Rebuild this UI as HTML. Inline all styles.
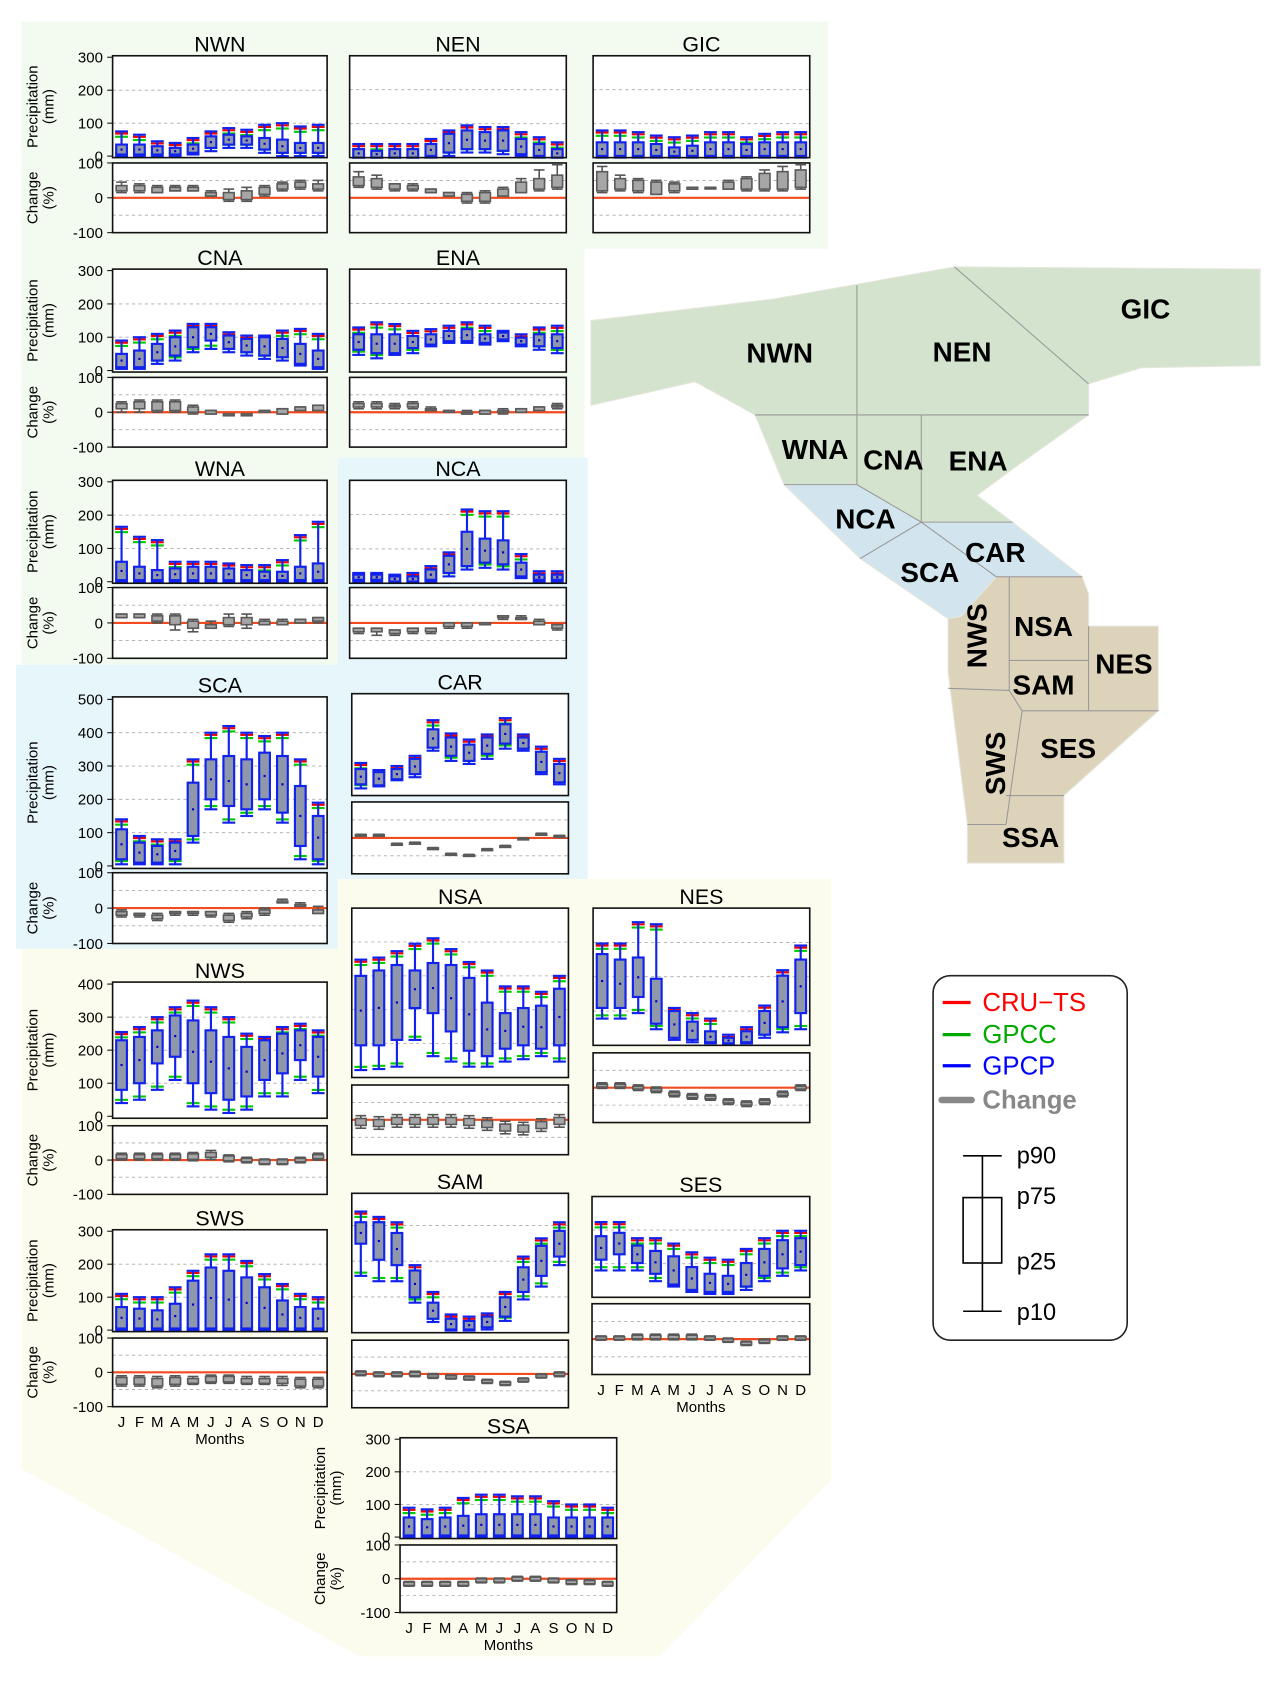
<!DOCTYPE html>
<html><head><meta charset="utf-8">
<style>
html,body{margin:0;padding:0;background:#fff;}
svg{display:block;font-family:"Liberation Sans",Arial,sans-serif;}
</style></head>
<body>
<svg id="fig" width="1287" height="1694" viewBox="0 0 1200 1580" preserveAspectRatio="none" xmlns="http://www.w3.org/2000/svg">
<g id="bg">
  <path d="M20,20 H772 V232 H545 V427 H315 V620 H20 Z" fill="#f3faef"/>
  <path d="M315,427 H548 V820 H315 V885 H15 V620 H315 Z" fill="#e6f6fb"/>
  <path d="M315,820 H775 V1380 L615,1545 H335 L20,1370 V885 H315 Z" fill="#fcfcee"/>
</g>
<g id="map"></g>
<g id="panels"></g>
<g id="legend">
  <rect x="870" y="910" width="181" height="340" rx="16" fill="#fff" stroke="#222" stroke-width="1.5"/>
  <line x1="879" y1="935" x2="905" y2="935" stroke="#f00" stroke-width="3"/>
  <text x="916" y="943" font-size="24" fill="#f00">CRU−TS</text>
  <line x1="879" y1="965" x2="905" y2="965" stroke="#0a0" stroke-width="3"/>
  <text x="916" y="973" font-size="24" fill="#0a0">GPCC</text>
  <line x1="879" y1="994" x2="905" y2="994" stroke="#00f" stroke-width="3"/>
  <text x="916" y="1002" font-size="24" fill="#00f">GPCP</text>
  <line x1="878" y1="1026" x2="906" y2="1026" stroke="#888" stroke-width="6" stroke-linecap="round"/>
  <text x="916" y="1034" font-size="24" font-weight="bold" fill="#888">Change</text>
  <line x1="916" y1="1078" x2="916" y2="1223" stroke="#000" stroke-width="1.5"/>
  <line x1="898" y1="1078" x2="934" y2="1078" stroke="#000" stroke-width="1.5"/>
  <line x1="898" y1="1223" x2="934" y2="1223" stroke="#000" stroke-width="1.5"/>
  <rect x="898" y="1117" width="36" height="61" fill="#fff" stroke="#000" stroke-width="1.5"/>
  <line x1="916" y1="1117" x2="916" y2="1178" stroke="#000" stroke-width="1.5"/>
  <text x="948" y="1085" font-size="22">p90</text>
  <text x="948" y="1123" font-size="22">p75</text>
  <text x="948" y="1184" font-size="22">p25</text>
  <text x="948" y="1231" font-size="22">p10</text>
</g>
</svg>
<script>
const months = ["J","F","M","A","M","J","J","A","S","O","N","D"];
// precipitation percentiles (GPCP) per region: p90, p75, p25, p10
const NWN_hi=[75,65,45,40,55,75,85,80,95,100,90,95], NWN_q3=[35,35,30,25,35,60,65,60,55,50,40,40], NWN_q1=[5,5,5,5,10,25,35,35,20,10,10,10], NWN_lo=[0,0,0,0,5,15,25,25,10,0,0,0];
const NWN_chi=[45,40,35,35,35,20,25,30,35,45,50,50], NWN_cq3=[35,35,30,30,30,15,15,20,30,40,45,40], NWN_cq1=[20,20,15,20,20,5,-5,-5,10,25,30,25], NWN_clo=[15,15,15,20,20,5,-10,-10,5,20,25,20];
const NEN_hi=[40,40,40,40,55,80,95,90,90,75,60,45], NEN_q3=[25,20,25,25,40,70,80,75,80,55,40,25], NEN_q1=[0,0,0,0,5,15,25,25,20,10,5,0], NEN_lo=[0,0,0,0,0,5,15,15,10,5,0,0];
const NEN_chi=[75,65,40,40,25,15,15,20,30,55,80,95], NEN_cq3=[60,55,40,35,25,15,10,15,25,45,55,65], NEN_cq1=[35,30,25,25,15,5,-10,-10,5,15,25,30], NEN_clo=[30,25,20,20,15,5,-15,-15,5,15,20,25];
const GIC_hi=[80,80,75,65,60,65,75,75,60,70,75,75], GIC_q3=[45,45,45,40,30,35,45,45,40,45,45,45], GIC_q1=[5,5,5,5,5,5,5,5,5,5,5,5], GIC_lo=[0,0,0,0,0,0,0,0,0,0,0,0];
const GIC_chi=[90,65,55,50,45,30,30,50,60,80,90,95], GIC_cq3=[75,55,50,45,40,30,30,45,55,70,75,80], GIC_cq1=[20,25,20,10,20,25,30,25,25,25,25,30], GIC_clo=[15,20,15,10,15,25,30,25,20,20,20,25];
const CNA_hi=[90,100,110,120,140,140,115,105,105,120,125,110], CNA_q3=[50,60,80,100,130,130,105,95,100,95,80,60], CNA_q1=[10,10,30,45,70,90,65,55,45,40,20,10], CNA_lo=[5,5,20,30,55,65,55,45,35,30,15,5];
const CNA_chi=[30,35,35,35,20,5,-5,-5,5,10,15,20], CNA_cq3=[25,30,30,30,15,5,-5,-5,5,10,15,20], CNA_cq1=[10,10,5,5,0,-5,-10,-10,0,-5,5,5], CNA_clo=[0,0,0,0,-5,-5,-10,-10,0,-5,5,5];
const ENA_hi=[130,145,140,120,125,135,145,135,120,110,130,135], ENA_q3=[110,110,110,105,110,120,125,110,115,100,110,110], ENA_q1=[65,55,55,70,80,90,90,85,95,80,75,70], ENA_lo=[50,40,50,55,75,85,85,80,90,75,65,55];
const ENA_chi=[30,30,25,30,15,5,5,5,10,10,15,25], ENA_cq3=[25,25,20,25,10,5,0,5,5,10,15,20], ENA_cq1=[15,15,15,15,5,0,-5,-5,0,0,5,15], ENA_clo=[10,10,10,10,5,0,-5,-5,-5,0,5,10];
const WNA_hi=[165,135,125,60,60,60,55,50,50,65,140,180], WNA_q3=[60,45,35,40,45,45,40,35,30,30,45,55], WNA_q1=[5,5,5,5,5,5,5,5,5,5,5,5], WNA_lo=[0,0,0,0,0,0,0,0,0,0,0,0];
const WNA_chi=[25,25,25,25,10,5,25,25,10,10,10,15], WNA_cq3=[25,25,20,20,5,-5,15,15,5,5,10,15], WNA_cq1=[15,15,5,-5,-15,-15,-5,-5,-5,-5,0,5], WNA_clo=[15,15,0,-20,-25,-15,-10,-15,-5,-5,0,0];
const NCA_hi=[30,30,25,30,50,90,215,210,210,85,35,35], NCA_q3=[25,25,20,20,40,80,150,130,125,60,25,25], NCA_q1=[10,10,5,5,10,30,50,60,55,20,10,10], NCA_lo=[5,5,5,5,5,20,40,45,40,15,5,5];
const NCA_chi=[-15,-15,-20,-15,-15,0,0,0,20,20,10,-5], NCA_cq3=[-15,-15,-20,-15,-15,0,0,0,20,15,5,-5], NCA_cq1=[-25,-25,-30,-25,-25,-10,-10,-5,15,10,-5,-15], NCA_clo=[-30,-35,-35,-30,-30,-15,-15,-5,10,10,-5,-20];
const SCA_hi=[140,90,80,80,320,400,420,400,390,400,320,190], SCA_q3=[110,70,60,70,250,320,330,320,340,330,240,150], SCA_q1=[20,10,10,20,90,200,180,170,200,160,60,20], SCA_lo=[5,5,5,5,70,170,130,150,170,130,20,5];
const SCA_chi=[-5,-15,-15,-10,-10,-10,-15,-10,0,25,15,5], SCA_cq3=[-10,-15,-20,-10,-10,-10,-20,-15,-5,20,10,-5], SCA_cq1=[-20,-20,-30,-15,-15,-20,-35,-25,-15,15,5,-15], SCA_clo=[-25,-25,-35,-20,-20,-25,-40,-30,-20,15,5,-15];
const CAR_hi=[32,25,29,39,74,61,55,60,76,60,48,36], CAR_q3=[26,23,26,36,65,57,50,57,70,57,43,31], CAR_q1=[11,10,16,21,47,39,34,41,51,46,23,13], CAR_lo=[7,9,15,18,44,34,31,36,46,44,21,11];
const CAR_chi=[10,10,-15,-12,-27,-43,-46,-30,-21,0,13,7], CAR_cq3=[9,9,-16,-13,-28,-44,-47,-31,-22,-1,12,6], CAR_cq1=[7,7,-18,-15,-30,-46,-49,-33,-24,-3,10,4], CAR_clo=[6,6,-19,-16,-31,-47,-50,-34,-25,-4,9,3];
const NSA_hi=[348,354,373,395,411,379,341,316,269,269,253,300], NSA_q3=[300,316,332,316,338,332,294,221,190,205,212,262], NSA_q1=[95,95,111,205,190,136,79,63,85,95,85,95], NSA_lo=[22,25,32,111,63,47,32,32,47,54,63,47];
const NSA_chi=[12,9,15,15,15,15,12,6,-4,-7,3,15], NSA_cq3=[4,1,7,7,7,7,4,-2,-12,-15,-5,7], NSA_cq1=[-16,-19,-13,-13,-13,-13,-16,-22,-32,-35,-25,-13], NSA_clo=[-24,-27,-21,-21,-21,-21,-24,-30,-40,-43,-33,-21];
const NES_hi=[297,297,359,353,109,94,78,31,53,116,219,291], NES_q3=[266,250,256,194,100,69,41,22,41,100,203,250], NES_q1=[109,109,141,63,22,16,9,6,9,31,53,94], NES_lo=[78,78,94,47,16,9,6,3,6,22,38,47];
const NES_chi=[14,14,8,2,-10,-17,-20,-32,-38,-32,-10,8], NES_cq3=[10,10,4,-2,-14,-21,-24,-36,-42,-36,-14,4], NES_cq1=[2,2,-4,-10,-22,-29,-32,-44,-50,-44,-22,-4], NES_clo=[-2,-2,-8,-14,-26,-33,-36,-48,-54,-48,-26,-8];
const NWS_hi=[255,270,300,330,350,330,300,250,240,270,280,260], NWS_q3=[230,240,260,305,290,260,240,210,230,250,260,240], NWS_q1=[80,100,160,180,100,70,50,60,110,130,170,120], NWS_lo=[40,50,80,110,30,20,10,20,60,60,110,70];
const NWS_chi=[20,20,20,20,22,28,15,8,3,3,8,20], NWS_cq3=[16,16,16,16,18,22,12,5,1,1,5,16], NWS_cq1=[4,4,4,4,2,8,-2,-5,-11,-11,-5,4], NWS_clo=[0,0,0,0,-2,2,-5,-8,-13,-13,-8,0];
const SWS_hi=[110,100,100,130,180,230,230,210,170,140,110,100], SWS_q3=[70,65,60,80,150,190,180,160,130,90,70,65], SWS_q1=[5,5,5,5,5,5,5,5,5,5,5,5], SWS_lo=[0,0,0,0,0,0,0,0,0,0,0,0];
const SWS_chi=[-10,-10,-12,-10,-12,-8,-8,-12,-12,-12,-15,-15], SWS_cq3=[-15,-15,-18,-15,-18,-12,-12,-18,-18,-18,-20,-20], SWS_cq1=[-35,-35,-40,-35,-32,-28,-28,-32,-32,-32,-40,-40], SWS_clo=[-40,-40,-45,-40,-35,-32,-32,-35,-35,-38,-45,-45];
const SAM_hi=[339,324,309,189,114,51,45,54,114,213,264,309], SAM_q3=[309,309,279,174,84,39,33,45,99,183,243,285], SAM_q1=[249,204,189,99,39,9,9,15,45,114,159,213], SAM_lo=[159,144,144,84,30,6,6,9,33,93,129,189];
const SAM_chi=[9,6,6,8,1,-3,-6,-16,-22,-12,0,6], SAM_cq3=[6,3,3,5,-2,-5,-8,-18,-24,-14,-2,3], SAM_cq1=[-2,-5,-5,-5,-10,-13,-16,-26,-32,-22,-10,-5], SAM_clo=[-5,-8,-8,-8,-13,-15,-18,-28,-34,-24,-12,-8];
const SES_hi=[224,224,176,176,160,134,118,112,144,176,198,198], SES_q3=[182,192,154,138,122,90,70,64,102,144,170,176], SES_q1=[112,128,102,70,38,22,16,16,32,64,86,96], SES_lo=[80,80,80,48,32,16,10,10,22,48,64,80];
const SES_chi=[9,9,14,14,14,14,9,3,-6,0,9,9], SES_cq3=[7,7,11,11,11,11,7,1,-8,-2,7,7], SES_cq1=[-1,-1,1,1,1,1,-1,-7,-16,-10,-1,-1], SES_clo=[-3,-3,-2,-2,-2,-2,-3,-9,-18,-12,-3,-3];
const SSA_hi=[90,85,90,120,130,130,125,125,110,100,100,90], SSA_q3=[60,55,60,65,70,70,70,70,60,60,60,60], SSA_q1=[5,5,5,5,5,5,5,5,5,5,5,5], SSA_lo=[0,0,0,0,0,0,0,0,0,0,0,0];
const SSA_chi=[-8,-8,-8,-8,2,2,7,7,2,-3,-3,-8], SSA_cq3=[-10,-10,-10,-10,0,0,5,5,0,-5,-5,-10], SSA_cq1=[-20,-20,-20,-20,-10,-10,-5,-5,-10,-15,-15,-20], SSA_clo=[-22,-22,-22,-22,-12,-12,-7,-7,-12,-17,-17,-22];

const D={NWN:[NWN_hi,NWN_q3,NWN_q1,NWN_lo,NWN_chi,NWN_cq3,NWN_cq1,NWN_clo],NEN:[NEN_hi,NEN_q3,NEN_q1,NEN_lo,NEN_chi,NEN_cq3,NEN_cq1,NEN_clo],GIC:[GIC_hi,GIC_q3,GIC_q1,GIC_lo,GIC_chi,GIC_cq3,GIC_cq1,GIC_clo],CNA:[CNA_hi,CNA_q3,CNA_q1,CNA_lo,CNA_chi,CNA_cq3,CNA_cq1,CNA_clo],ENA:[ENA_hi,ENA_q3,ENA_q1,ENA_lo,ENA_chi,ENA_cq3,ENA_cq1,ENA_clo],WNA:[WNA_hi,WNA_q3,WNA_q1,WNA_lo,WNA_chi,WNA_cq3,WNA_cq1,WNA_clo],NCA:[NCA_hi,NCA_q3,NCA_q1,NCA_lo,NCA_chi,NCA_cq3,NCA_cq1,NCA_clo],SCA:[SCA_hi,SCA_q3,SCA_q1,SCA_lo,SCA_chi,SCA_cq3,SCA_cq1,SCA_clo],CAR:[CAR_hi,CAR_q3,CAR_q1,CAR_lo,CAR_chi,CAR_cq3,CAR_cq1,CAR_clo],NSA:[NSA_hi,NSA_q3,NSA_q1,NSA_lo,NSA_chi,NSA_cq3,NSA_cq1,NSA_clo],NES:[NES_hi,NES_q3,NES_q1,NES_lo,NES_chi,NES_cq3,NES_cq1,NES_clo],NWS:[NWS_hi,NWS_q3,NWS_q1,NWS_lo,NWS_chi,NWS_cq3,NWS_cq1,NWS_clo],SWS:[SWS_hi,SWS_q3,SWS_q1,SWS_lo,SWS_chi,SWS_cq3,SWS_cq1,SWS_clo],SAM:[SAM_hi,SAM_q3,SAM_q1,SAM_lo,SAM_chi,SAM_cq3,SAM_cq1,SAM_clo],SES:[SES_hi,SES_q3,SES_q1,SES_lo,SES_chi,SES_cq3,SES_cq1,SES_clo],SSA:[SSA_hi,SSA_q3,SSA_q1,SSA_lo,SSA_chi,SSA_cq3,SSA_cq1,SSA_clo]};

const L=[
 ["NWN",105,305,52,147,152,217,300,true,false],
 ["NEN",326,528,52,147,152,217,300,false,false],
 ["GIC",553,755,52,147,152,217,300,false,false],
 ["CNA",105,305,251,347,352,417,300,true,false],
 ["ENA",326,528,251,347,352,417,300,false,false],
 ["WNA",105,305,448,544,548,614,300,true,false],
 ["NCA",326,528,448,544,548,614,300,false,false],
 ["SCA",105,305,650,810,814,880,500,true,false],
 ["CAR",328,530,647,742,748,815,100,false,false],
 ["NSA",328,530,847,1005,1012,1077,500,false,false],
 ["NES",553,755,847,975,982,1047,400,false,false],
 ["NWS",105,305,916,1043,1050,1114,400,true,false],
 ["SWS",105,305,1147,1242,1248,1312,300,true,true],
 ["SAM",328,530,1113,1243,1250,1313,390,false,false],
 ["SES",552,755,1116,1210,1216,1282,300,false,true],
 ["SSA",373,575,1341,1435,1441,1504,300,true,true]
];
const NS="http://www.w3.org/2000/svg";
function mk(tag,attrs,parent,txt){const e=document.createElementNS(NS,tag);for(const k in attrs)e.setAttribute(k,attrs[k]);if(txt!==undefined)e.textContent=txt;parent.appendChild(e);return e;}
const P=document.getElementById('panels');
L.forEach(([name,x0,x1,pT,pB,cT,cB,pMax,ticks,showM])=>{
  const g=mk('g',{},P);
  
  
  const d=D[name];
  const pad=ticks?pMax*0.015:0;
  const yP=v=>pB-(v+pad)/(pMax+2*pad)*(pB-pT);
  const yC=v=>cB-(v+100)/200*(cB-cT);
  const step=(x1-x0)/12;
  const xM=i=>x0+step*(i+0.5);
  mk('rect',{x:x0,y:pT,width:x1-x0,height:pB-pT,fill:'#fff',stroke:'none'},g);
  mk('rect',{x:x0,y:cT,width:x1-x0,height:cB-cT,fill:'#fff',stroke:'none'},g);
  for(let v=100;v<pMax;v+=100){mk('line',{x1:x0,x2:x1,y1:yP(v),y2:yP(v),stroke:'#aaa','stroke-dasharray':'3,3','stroke-width':0.8},g);}
  [50,-50].forEach(v=>mk('line',{x1:x0,x2:x1,y1:yC(v),y2:yC(v),stroke:'#aaa','stroke-dasharray':'3,3','stroke-width':0.8},g));
  mk('line',{x1:x0,x2:x1,y1:yC(0),y2:yC(0),stroke:'#f04a1e','stroke-width':2},g);
  const t=mk('text',{x:(x0+x1)/2,y:pT-4,'font-size':20,'text-anchor':'middle'},g,name);
  
  
  for(let i=0;i<12;i++){
    const x=xM(i);
    const b=mk('g',{},g);
    
    
    const hi=yP(d[0][i]),q3=yP(d[1][i]),q1=yP(d[2][i]),lo=yP(d[3][i]);
    mk('line',{x1:x-6,x2:x+6,y1:hi+2,y2:hi+2,stroke:'#e00','stroke-width':2},b);
    mk('line',{x1:x-6,x2:x+6,y1:hi+5,y2:hi+5,stroke:'#0c0','stroke-width':2},b);
    mk('line',{x1:x-6,x2:x+6,y1:lo-3,y2:lo-3,stroke:'#0c0','stroke-width':2},b);
    mk('line',{x1:x,x2:x,y1:hi,y2:lo,stroke:'#12e','stroke-width':2},b);
    mk('line',{x1:x-6,x2:x+6,y1:hi,y2:hi,stroke:'#12e','stroke-width':2},b);
    mk('line',{x1:x-6,x2:x+6,y1:lo,y2:lo,stroke:'#12e','stroke-width':2},b);
    mk('rect',{x:x-5,y:q3,width:10,height:Math.max(1,q1-q3),fill:'#8f97aa',stroke:'#12e','stroke-width':2},b);
    mk('rect',{x:x-1,y:(q1+q3)/2-1,width:2,height:2,fill:'#00c'},b);
    const c=mk('g',{},g);
    
    
    const chi=yC(d[4][i]),cq3=yC(d[5][i]),cq1=yC(d[6][i]),clo=yC(d[7][i]);
    mk('line',{x1:x,x2:x,y1:chi,y2:clo,stroke:'#555','stroke-width':1.5},c);
    mk('line',{x1:x-5,x2:x+5,y1:chi,y2:chi,stroke:'#555','stroke-width':1.5},c);
    mk('line',{x1:x-5,x2:x+5,y1:clo,y2:clo,stroke:'#555','stroke-width':1.5},c);
    mk('rect',{x:x-5,y:cq3,width:10,height:Math.max(1.5,cq1-cq3),fill:'#a6a6a6',stroke:'#5a5a5a','stroke-width':1.5},c);
  }
  mk('rect',{x:x0,y:pT,width:x1-x0,height:pB-pT,fill:'none',stroke:'#111','stroke-width':1.5},g);
  mk('rect',{x:x0,y:cT,width:x1-x0,height:cB-cT,fill:'none',stroke:'#111','stroke-width':1.5},g);
  if(ticks){
    for(let v=0;v<=pMax;v+=100){const tt=mk('text',{x:x0-9,y:yP(v)+5,'font-size':14,'text-anchor':'end'},g,String(v));
      
      mk('line',{x1:x0-5,x2:x0,y1:yP(v),y2:yP(v),stroke:'#111'},g);}
    [100,0,-100].forEach(v=>{const tt=mk('text',{x:x0-9,y:yC(v)+5,'font-size':14,'text-anchor':'end'},g,String(v));
      
      mk('line',{x1:x0-5,x2:x0,y1:yC(v),y2:yC(v),stroke:'#111'},g);});
    const pm=(pT+pB)/2, cm=(cT+cB)/2, lx=x0-70;
    const a=mk('text',{x:0,y:0,'font-size':14,'text-anchor':'middle',transform:`translate(${lx},${pm}) rotate(-90)`},g,'Precipitation');
    
    mk('text',{x:0,y:0,'font-size':14,'text-anchor':'middle',transform:`translate(${lx+15},${pm}) rotate(-90)`},g,'(mm)');
    const b2=mk('text',{x:0,y:0,'font-size':14,'text-anchor':'middle',transform:`translate(${lx},${cm}) rotate(-90)`},g,'Change');
    
    mk('text',{x:0,y:0,'font-size':14,'text-anchor':'middle',transform:`translate(${lx+15},${cm}) rotate(-90)`},g,'(%)');
  }
  if(showM){
    months.forEach((m,i)=>{const mt=mk('text',{x:xM(i),y:cB+19,'font-size':14,'text-anchor':'middle'},g,m);
      });
    const mm=mk('text',{x:(x0+x1)/2,y:cB+35,'font-size':14,'text-anchor':'middle'},g,'Months');
    
  }
});
// map
const M=document.getElementById('map');
const polys=[
 ["map-north-america","551,299 721,279 890,249 1175,251 1175,341 1064,343 1015,358 1015,387 942,439 911,462 944,487 859,487 799,452 731,452 704,387 648,356 551,378","#d3e3cd"],
 ["map-central-america","731,452 799,452 859,487 944,487 1009,538 929,538 896,575 884,577 802,521","#d2e5ee"],
 ["map-south-america","929,538 1009,538 1015,554 1015,584 1080,584 1080,663 992,742 992,805 902,805 902,769 884,627 884,577 896,575","#ddd3bb"]
];
polys.forEach(([n,pts,f])=>{const p=mk('polygon',{points:pts,fill:f,stroke:'#e6e6dc','stroke-width':1},M);
  });
const lines=[[799,266,799,452],[704,387,1015,387],[859,387,859,487],[890,249,1015,358],[731,452,799,452],[799,452,859,487],[802,521,859,487],[859,487,929,538],[859,487,944,487],[929,538,1009,538],[941,538,941,644],[941,616,1015,616],[1015,584,1015,663],[884,642,941,644],[941,644,953,663],[953,663,1080,663],[953,663,938,769],[938,742,992,742],[902,769,938,769]];
lines.forEach(l=>mk('line',{x1:l[0],y1:l[1],x2:l[2],y2:l[3],stroke:'#999','stroke-width':1},M));
const labs=[["NWN",727,338,0],["NEN",897,337,0],["GIC",1068,297,0],["WNA",760,428,0],["CNA",833,438,0],["ENA",912,439,0],["NCA",807,493,0],["CAR",928,524,0],["SCA",867,543,0],["NSA",973,593,0],["NES",1048,628,0],["SAM",973,648,0],["SES",996,707,0],["SSA",961,790,0],["NWS",910,593,1],["SWS",927,712,1]];
labs.forEach(([t,x,y,r])=>{const e=mk('text',r?{x:0,y:0,'font-size':26,'font-weight':'bold','text-anchor':'middle',transform:`translate(${x+10},${y}) rotate(-90)`}:{x:x,y:y,'font-size':26,'font-weight':'bold','text-anchor':'middle'},M,t);
  });
</script>
</body></html>
